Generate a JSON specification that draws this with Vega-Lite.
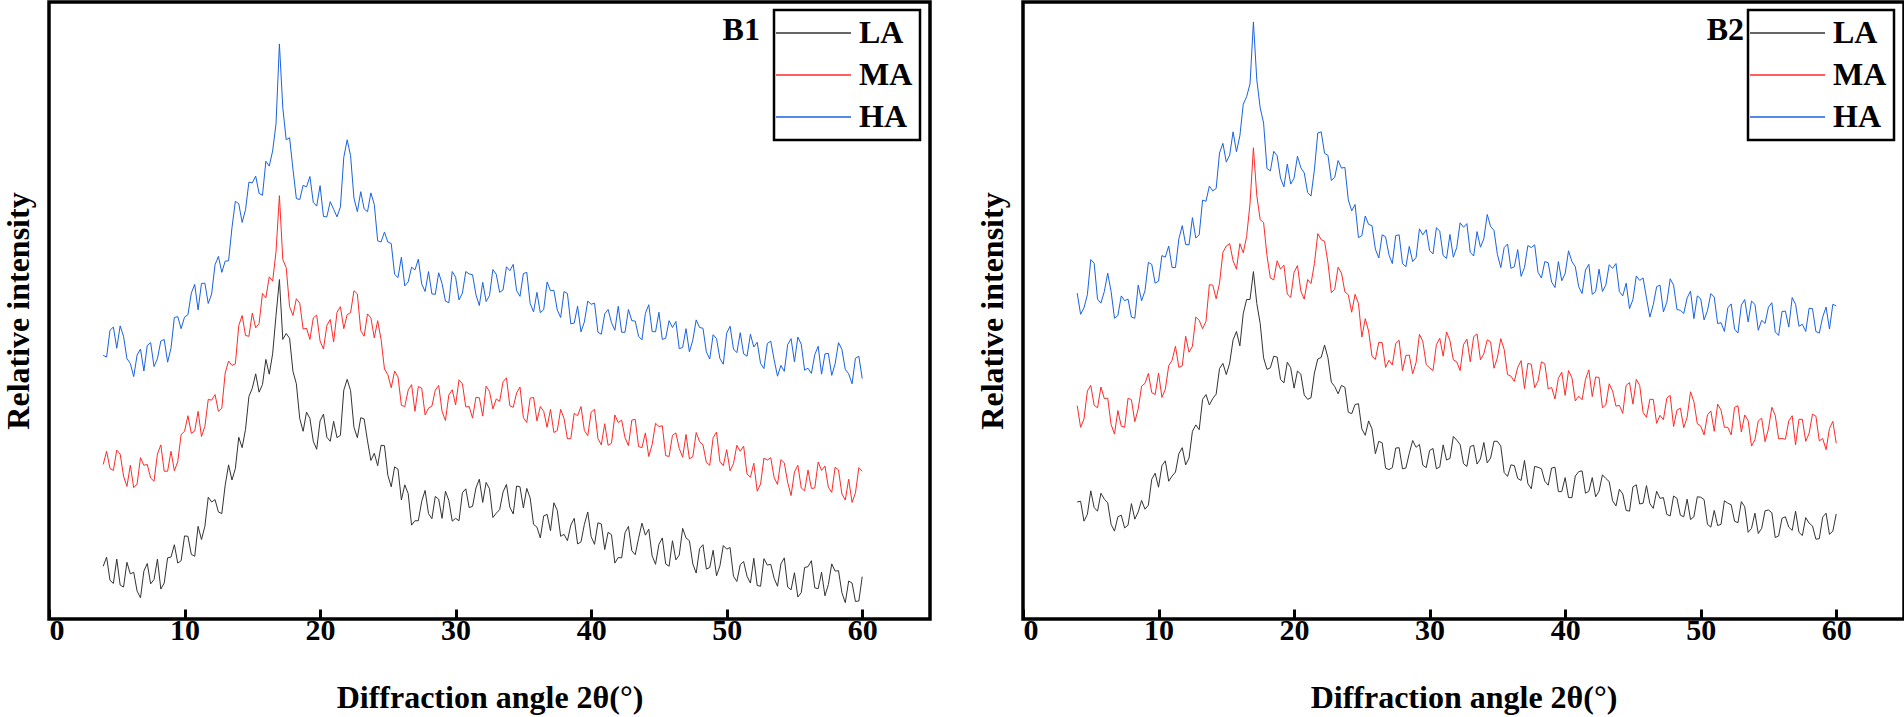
{
  "$schema": "https://vega.github.io/schema/vega-lite/v6.json",
  "padding": {"left": 0, "top": 0, "right": 0, "bottom": 0},
  "background": "white",
  "config": {
    "font": "Liberation Serif",
    "view": {"stroke": "black", "strokeWidth": 3.5},
    "axis": {
      "domain": false, "grid": false,
      "tickSize": -10, "tickWidth": 3, "tickColor": "black",
      "labelFontSize": 30, "labelFontWeight": "bold", "labelColor": "black",
      "titleFontSize": 32, "titleFontWeight": "bold", "titleColor": "black"
    },
    "axisX": {"labelPadding": 6, "titlePadding": 37},
    "axisY": {"titlePadding": 14},
    "legend": {"strokeColor": "black", "strokeWidth": 2.5, "fillColor": "white", "padding": 7, "cornerRadius": 0}
  },
  "datasets": {
    "b1la": [{"x":4,"y":132},{"x":4.25,"y":155},{"x":4.5,"y":97},{"x":4.75,"y":89},{"x":5,"y":150},{"x":5.25,"y":85},{"x":5.5,"y":80},{"x":5.75,"y":142},{"x":6,"y":113},{"x":6.25,"y":117},{"x":6.5,"y":70},{"x":6.75,"y":53},{"x":7,"y":120},{"x":7.25,"y":139},{"x":7.5,"y":88},{"x":7.75,"y":99},{"x":8,"y":150},{"x":8.25,"y":75},{"x":8.5,"y":90},{"x":8.75,"y":153},{"x":9,"y":155},{"x":9.25,"y":186},{"x":9.5,"y":140},{"x":9.75,"y":146},{"x":10,"y":208},{"x":10.25,"y":207},{"x":10.5,"y":162},{"x":10.75,"y":157},{"x":11,"y":232},{"x":11.25,"y":199},{"x":11.5,"y":232},{"x":11.75,"y":305},{"x":12,"y":293},{"x":12.25,"y":299},{"x":12.5,"y":268},{"x":12.75,"y":264},{"x":13,"y":335},{"x":13.25,"y":386},{"x":13.5,"y":348},{"x":13.75,"y":377},{"x":14,"y":455},{"x":14.25,"y":429},{"x":14.5,"y":475},{"x":14.75,"y":557},{"x":15,"y":578},{"x":15.25,"y":614},{"x":15.5,"y":568},{"x":15.75,"y":587},{"x":16,"y":650},{"x":16.25,"y":613},{"x":16.5,"y":664},{"x":16.75,"y":760},{"x":17,"y":850},{"x":17.25,"y":700},{"x":17.5,"y":715},{"x":17.75,"y":703},{"x":18,"y":620},{"x":18.25,"y":589},{"x":18.5,"y":502},{"x":18.75,"y":470},{"x":19,"y":518},{"x":19.25,"y":502},{"x":19.5,"y":445},{"x":19.75,"y":425},{"x":20,"y":496},{"x":20.25,"y":513},{"x":20.5,"y":455},{"x":20.75,"y":445},{"x":21,"y":495},{"x":21.25,"y":454},{"x":21.5,"y":460},{"x":21.75,"y":573},{"x":22,"y":600},{"x":22.25,"y":572},{"x":22.5,"y":480},{"x":22.75,"y":454},{"x":23,"y":504},{"x":23.25,"y":501},{"x":23.5,"y":446},{"x":23.75,"y":397},{"x":24,"y":415},{"x":24.25,"y":384},{"x":24.5,"y":435},{"x":24.75,"y":434},{"x":25,"y":360},{"x":25.25,"y":331},{"x":25.5,"y":381},{"x":25.75,"y":375},{"x":26,"y":298},{"x":26.25,"y":336},{"x":26.5,"y":314},{"x":26.75,"y":235},{"x":27,"y":246},{"x":27.25,"y":246},{"x":27.5,"y":295},{"x":27.75,"y":322},{"x":28,"y":264},{"x":28.25,"y":251},{"x":28.5,"y":307},{"x":28.75,"y":300},{"x":29,"y":252},{"x":29.25,"y":320},{"x":29.5,"y":297},{"x":29.75,"y":245},{"x":30,"y":252},{"x":30.25,"y":246},{"x":30.5,"y":316},{"x":30.75,"y":326},{"x":31,"y":279},{"x":31.25,"y":282},{"x":31.5,"y":328},{"x":31.75,"y":350},{"x":32,"y":292},{"x":32.25,"y":342},{"x":32.5,"y":326},{"x":32.75,"y":254},{"x":33,"y":265},{"x":33.25,"y":274},{"x":33.5,"y":318},{"x":33.75,"y":337},{"x":34,"y":280},{"x":34.25,"y":263},{"x":34.5,"y":333},{"x":34.75,"y":331},{"x":35,"y":278},{"x":35.25,"y":327},{"x":35.5,"y":303},{"x":35.75,"y":237},{"x":36,"y":230},{"x":36.25,"y":203},{"x":36.5,"y":258},{"x":36.75,"y":262},{"x":37,"y":221},{"x":37.25,"y":291},{"x":37.5,"y":272},{"x":37.75,"y":207},{"x":38,"y":212},{"x":38.25,"y":196},{"x":38.5,"y":235},{"x":38.75,"y":252},{"x":39,"y":188},{"x":39.25,"y":193},{"x":39.5,"y":237},{"x":39.75,"y":268},{"x":40,"y":206},{"x":40.25,"y":187},{"x":40.5,"y":241},{"x":40.75,"y":238},{"x":41,"y":174},{"x":41.25,"y":217},{"x":41.5,"y":211},{"x":41.75,"y":140},{"x":42,"y":154},{"x":42.25,"y":153},{"x":42.5,"y":216},{"x":42.75,"y":232},{"x":43,"y":171},{"x":43.25,"y":161},{"x":43.5,"y":202},{"x":43.75,"y":240},{"x":44,"y":210},{"x":44.25,"y":225},{"x":44.5,"y":158},{"x":44.75,"y":137},{"x":45,"y":187},{"x":45.25,"y":203},{"x":45.5,"y":138},{"x":45.75,"y":132},{"x":46,"y":196},{"x":46.25,"y":148},{"x":46.5,"y":160},{"x":46.75,"y":227},{"x":47,"y":203},{"x":47.25,"y":196},{"x":47.5,"y":138},{"x":47.75,"y":115},{"x":48,"y":176},{"x":48.25,"y":186},{"x":48.5,"y":125},{"x":48.75,"y":129},{"x":49,"y":172},{"x":49.25,"y":108},{"x":49.5,"y":133},{"x":49.75,"y":184},{"x":50,"y":175},{"x":50.25,"y":179},{"x":50.5,"y":107},{"x":50.75,"y":94},{"x":51,"y":136},{"x":51.25,"y":144},{"x":51.5,"y":107},{"x":51.75,"y":90},{"x":52,"y":152},{"x":52.25,"y":84},{"x":52.5,"y":82},{"x":52.75,"y":151},{"x":53,"y":135},{"x":53.25,"y":137},{"x":53.5,"y":102},{"x":53.75,"y":82},{"x":54,"y":138},{"x":54.25,"y":153},{"x":54.5,"y":80},{"x":54.75,"y":73},{"x":55,"y":116},{"x":55.25,"y":55},{"x":55.5,"y":66},{"x":55.75,"y":129},{"x":56,"y":131},{"x":56.25,"y":146},{"x":56.5,"y":78},{"x":56.75,"y":76},{"x":57,"y":117},{"x":57.25,"y":58},{"x":57.5,"y":86},{"x":57.75,"y":138},{"x":58,"y":120},{"x":58.25,"y":121},{"x":58.5,"y":66},{"x":58.75,"y":41},{"x":59,"y":95},{"x":59.25,"y":90},{"x":59.5,"y":44},{"x":59.75,"y":45},{"x":60,"y":106}],
    "b1ma": [{"x":4,"y":387},{"x":4.25,"y":420},{"x":4.5,"y":377},{"x":4.75,"y":372},{"x":5,"y":423},{"x":5.25,"y":413},{"x":5.5,"y":358},{"x":5.75,"y":332},{"x":6,"y":385},{"x":6.25,"y":329},{"x":6.5,"y":338},{"x":6.75,"y":404},{"x":7,"y":385},{"x":7.25,"y":387},{"x":7.5,"y":353},{"x":7.75,"y":345},{"x":8,"y":413},{"x":8.25,"y":436},{"x":8.5,"y":370},{"x":8.75,"y":370},{"x":9,"y":420},{"x":9.25,"y":371},{"x":9.5,"y":394},{"x":9.75,"y":462},{"x":10,"y":470},{"x":10.25,"y":509},{"x":10.5,"y":465},{"x":10.75,"y":471},{"x":11,"y":520},{"x":11.25,"y":457},{"x":11.5,"y":482},{"x":11.75,"y":550},{"x":12,"y":548},{"x":12.25,"y":562},{"x":12.5,"y":520},{"x":12.75,"y":528},{"x":13,"y":616},{"x":13.25,"y":646},{"x":13.5,"y":635},{"x":13.75,"y":639},{"x":14,"y":735},{"x":14.25,"y":760},{"x":14.5,"y":710},{"x":14.75,"y":708},{"x":15,"y":766},{"x":15.25,"y":729},{"x":15.5,"y":740},{"x":15.75,"y":815},{"x":16,"y":804},{"x":16.25,"y":857},{"x":16.5,"y":846},{"x":16.75,"y":920},{"x":17,"y":1060},{"x":17.25,"y":900},{"x":17.5,"y":880},{"x":17.75,"y":782},{"x":18,"y":760},{"x":18.25,"y":802},{"x":18.5,"y":791},{"x":18.75,"y":726},{"x":19,"y":728},{"x":19.25,"y":700},{"x":19.5,"y":754},{"x":19.75,"y":761},{"x":20,"y":696},{"x":20.25,"y":676},{"x":20.5,"y":735},{"x":20.75,"y":750},{"x":21,"y":694},{"x":21.25,"y":768},{"x":21.5,"y":782},{"x":21.75,"y":727},{"x":22,"y":762},{"x":22.25,"y":767},{"x":22.5,"y":822},{"x":22.75,"y":814},{"x":23,"y":722},{"x":23.25,"y":708},{"x":23.5,"y":764},{"x":23.75,"y":754},{"x":24,"y":704},{"x":24.25,"y":747},{"x":24.5,"y":700},{"x":24.75,"y":626},{"x":25,"y":612},{"x":25.25,"y":579},{"x":25.5,"y":621},{"x":25.75,"y":606},{"x":26,"y":535},{"x":26.25,"y":532},{"x":26.5,"y":573},{"x":26.75,"y":587},{"x":27,"y":520},{"x":27.25,"y":582},{"x":27.5,"y":578},{"x":27.75,"y":511},{"x":28,"y":528},{"x":28.25,"y":533},{"x":28.5,"y":573},{"x":28.75,"y":585},{"x":29,"y":520},{"x":29.25,"y":497},{"x":29.5,"y":561},{"x":29.75,"y":574},{"x":30,"y":536},{"x":30.25,"y":599},{"x":30.5,"y":589},{"x":30.75,"y":531},{"x":31,"y":532},{"x":31.25,"y":503},{"x":31.5,"y":555},{"x":31.75,"y":554},{"x":32,"y":508},{"x":32.25,"y":583},{"x":32.5,"y":570},{"x":32.75,"y":526},{"x":33,"y":551},{"x":33.25,"y":545},{"x":33.5,"y":594},{"x":33.75,"y":604},{"x":34,"y":534},{"x":34.25,"y":530},{"x":34.5,"y":566},{"x":34.75,"y":581},{"x":35,"y":504},{"x":35.25,"y":492},{"x":35.5,"y":553},{"x":35.75,"y":555},{"x":36,"y":496},{"x":36.25,"y":532},{"x":36.5,"y":520},{"x":36.75,"y":480},{"x":37,"y":525},{"x":37.25,"y":467},{"x":37.5,"y":472},{"x":37.75,"y":525},{"x":38,"y":502},{"x":38.25,"y":451},{"x":38.5,"y":452},{"x":38.75,"y":515},{"x":39,"y":509},{"x":39.25,"y":532},{"x":39.5,"y":472},{"x":39.75,"y":459},{"x":40,"y":518},{"x":40.25,"y":525},{"x":40.5,"y":452},{"x":40.75,"y":436},{"x":41,"y":489},{"x":41.25,"y":435},{"x":41.5,"y":440},{"x":41.75,"y":511},{"x":42,"y":492},{"x":42.25,"y":498},{"x":42.5,"y":454},{"x":42.75,"y":434},{"x":43,"y":498},{"x":43.25,"y":500},{"x":43.5,"y":432},{"x":43.75,"y":429},{"x":44,"y":466},{"x":44.25,"y":407},{"x":44.5,"y":437},{"x":44.75,"y":490},{"x":45,"y":482},{"x":45.25,"y":484},{"x":45.5,"y":409},{"x":45.75,"y":407},{"x":46,"y":460},{"x":46.25,"y":466},{"x":46.5,"y":427},{"x":46.75,"y":405},{"x":47,"y":462},{"x":47.25,"y":401},{"x":47.5,"y":406},{"x":47.75,"y":467},{"x":48,"y":444},{"x":48.25,"y":436},{"x":48.5,"y":392},{"x":48.75,"y":385},{"x":49,"y":454},{"x":49.25,"y":468},{"x":49.5,"y":394},{"x":49.75,"y":384},{"x":50,"y":424},{"x":50.25,"y":371},{"x":50.5,"y":389},{"x":50.75,"y":435},{"x":51,"y":420},{"x":51.25,"y":433},{"x":51.5,"y":363},{"x":51.75,"y":355},{"x":52,"y":390},{"x":52.25,"y":320},{"x":52.5,"y":338},{"x":52.75,"y":403},{"x":53,"y":398},{"x":53.25,"y":404},{"x":53.5,"y":354},{"x":53.75,"y":337},{"x":54,"y":399},{"x":54.25,"y":391},{"x":54.5,"y":342},{"x":54.75,"y":309},{"x":55,"y":368},{"x":55.25,"y":385},{"x":55.5,"y":328},{"x":55.75,"y":321},{"x":56,"y":373},{"x":56.25,"y":327},{"x":56.5,"y":328},{"x":56.75,"y":393},{"x":57,"y":372},{"x":57.25,"y":383},{"x":57.5,"y":330},{"x":57.75,"y":317},{"x":58,"y":380},{"x":58.25,"y":373},{"x":58.5,"y":313},{"x":58.75,"y":298},{"x":59,"y":350},{"x":59.25,"y":292},{"x":59.5,"y":316},{"x":59.75,"y":379},{"x":60,"y":370}],
    "b1ha": [{"x":4,"y":660},{"x":4.25,"y":656},{"x":4.5,"y":723},{"x":4.75,"y":731},{"x":5,"y":678},{"x":5.25,"y":734},{"x":5.5,"y":708},{"x":5.75,"y":652},{"x":6,"y":640},{"x":6.25,"y":607},{"x":6.5,"y":661},{"x":6.75,"y":676},{"x":7,"y":621},{"x":7.25,"y":685},{"x":7.5,"y":692},{"x":7.75,"y":632},{"x":8,"y":652},{"x":8.25,"y":696},{"x":8.5,"y":700},{"x":8.75,"y":643},{"x":9,"y":678},{"x":9.25,"y":755},{"x":9.5,"y":757},{"x":9.75,"y":727},{"x":10,"y":756},{"x":10.25,"y":762},{"x":10.5,"y":816},{"x":10.75,"y":838},{"x":11,"y":774},{"x":11.25,"y":840},{"x":11.5,"y":841},{"x":11.75,"y":790},{"x":12,"y":814},{"x":12.25,"y":887},{"x":12.5,"y":908},{"x":12.75,"y":868},{"x":13,"y":896},{"x":13.25,"y":897},{"x":13.5,"y":980},{"x":13.75,"y":1046},{"x":14,"y":1040},{"x":14.25,"y":993},{"x":14.5,"y":1025},{"x":14.75,"y":1094},{"x":15,"y":1092},{"x":15.25,"y":1109},{"x":15.5,"y":1066},{"x":15.75,"y":1061},{"x":16,"y":1146},{"x":16.25,"y":1134},{"x":16.5,"y":1172},{"x":16.75,"y":1240},{"x":17,"y":1440},{"x":17.25,"y":1280},{"x":17.5,"y":1200},{"x":17.75,"y":1205},{"x":18,"y":1126},{"x":18.25,"y":1053},{"x":18.5,"y":1050},{"x":18.75,"y":1086},{"x":19,"y":1082},{"x":19.25,"y":1108},{"x":19.5,"y":1043},{"x":19.75,"y":1034},{"x":20,"y":1085},{"x":20.25,"y":1008},{"x":20.5,"y":1007},{"x":20.75,"y":1045},{"x":21,"y":1026},{"x":21.25,"y":1007},{"x":21.5,"y":1032},{"x":21.75,"y":1156},{"x":22,"y":1200},{"x":22.25,"y":1160},{"x":22.5,"y":1054},{"x":22.75,"y":1020},{"x":23,"y":1070},{"x":23.25,"y":1027},{"x":23.5,"y":1020},{"x":23.75,"y":1067},{"x":24,"y":1038},{"x":24.25,"y":947},{"x":24.5,"y":944},{"x":24.75,"y":969},{"x":25,"y":944},{"x":25.25,"y":940},{"x":25.5,"y":863},{"x":25.75,"y":855},{"x":26,"y":906},{"x":26.25,"y":834},{"x":26.5,"y":844},{"x":26.75,"y":881},{"x":27,"y":874},{"x":27.25,"y":901},{"x":27.5,"y":839},{"x":27.75,"y":820},{"x":28,"y":870},{"x":28.25,"y":814},{"x":28.5,"y":813},{"x":28.75,"y":867},{"x":29,"y":840},{"x":29.25,"y":796},{"x":29.5,"y":792},{"x":29.75,"y":870},{"x":30,"y":856},{"x":30.25,"y":799},{"x":30.5,"y":816},{"x":30.75,"y":870},{"x":31,"y":864},{"x":31.25,"y":862},{"x":31.5,"y":812},{"x":31.75,"y":785},{"x":32,"y":843},{"x":32.25,"y":795},{"x":32.5,"y":810},{"x":32.75,"y":875},{"x":33,"y":863},{"x":33.25,"y":818},{"x":33.5,"y":824},{"x":33.75,"y":882},{"x":34,"y":872},{"x":34.25,"y":888},{"x":34.5,"y":822},{"x":34.75,"y":808},{"x":35,"y":865},{"x":35.25,"y":868},{"x":35.5,"y":790},{"x":35.75,"y":769},{"x":36,"y":818},{"x":36.25,"y":767},{"x":36.5,"y":775},{"x":36.75,"y":844},{"x":37,"y":822},{"x":37.25,"y":823},{"x":37.5,"y":774},{"x":37.75,"y":755},{"x":38,"y":820},{"x":38.25,"y":815},{"x":38.5,"y":739},{"x":38.75,"y":741},{"x":39,"y":783},{"x":39.25,"y":719},{"x":39.5,"y":744},{"x":39.75,"y":796},{"x":40,"y":788},{"x":40.25,"y":791},{"x":40.5,"y":718},{"x":40.75,"y":713},{"x":41,"y":764},{"x":41.25,"y":775},{"x":41.5,"y":742},{"x":41.75,"y":723},{"x":42,"y":783},{"x":42.25,"y":718},{"x":42.5,"y":718},{"x":42.75,"y":775},{"x":43,"y":747},{"x":43.25,"y":746},{"x":43.5,"y":708},{"x":43.75,"y":699},{"x":44,"y":765},{"x":44.25,"y":787},{"x":44.5,"y":720},{"x":44.75,"y":719},{"x":45,"y":768},{"x":45.25,"y":700},{"x":45.5,"y":703},{"x":45.75,"y":747},{"x":46,"y":730},{"x":46.25,"y":745},{"x":46.5,"y":677},{"x":46.75,"y":680},{"x":47,"y":727},{"x":47.25,"y":669},{"x":47.5,"y":698},{"x":47.75,"y":749},{"x":48,"y":730},{"x":48.25,"y":728},{"x":48.5,"y":669},{"x":48.75,"y":651},{"x":49,"y":712},{"x":49.25,"y":702},{"x":49.5,"y":652},{"x":49.75,"y":638},{"x":50,"y":716},{"x":50.25,"y":733},{"x":50.5,"y":676},{"x":50.75,"y":667},{"x":51,"y":717},{"x":51.25,"y":664},{"x":51.5,"y":658},{"x":51.75,"y":713},{"x":52,"y":681},{"x":52.25,"y":693},{"x":52.5,"y":640},{"x":52.75,"y":627},{"x":53,"y":690},{"x":53.25,"y":696},{"x":53.5,"y":649},{"x":53.75,"y":608},{"x":54,"y":635},{"x":54.25,"y":620},{"x":54.5,"y":687},{"x":54.75,"y":702},{"x":55,"y":644},{"x":55.25,"y":706},{"x":55.5,"y":688},{"x":55.75,"y":623},{"x":56,"y":628},{"x":56.25,"y":615},{"x":56.5,"y":662},{"x":56.75,"y":683},{"x":57,"y":613},{"x":57.25,"y":664},{"x":57.5,"y":665},{"x":57.75,"y":610},{"x":58,"y":639},{"x":58.25,"y":692},{"x":58.5,"y":675},{"x":58.75,"y":625},{"x":59,"y":614},{"x":59.25,"y":589},{"x":59.5,"y":653},{"x":59.75,"y":658},{"x":60,"y":602}],
    "b2la": [{"x":4,"y":293},{"x":4.25,"y":295},{"x":4.5,"y":245},{"x":4.75,"y":262},{"x":5,"y":321},{"x":5.25,"y":279},{"x":5.5,"y":270},{"x":5.75,"y":315},{"x":6,"y":300},{"x":6.25,"y":291},{"x":6.5,"y":237},{"x":6.75,"y":220},{"x":7,"y":256},{"x":7.25,"y":260},{"x":7.5,"y":228},{"x":7.75,"y":235},{"x":8,"y":289},{"x":8.25,"y":250},{"x":8.5,"y":268},{"x":8.75,"y":297},{"x":9,"y":275},{"x":9.25,"y":285},{"x":9.5,"y":350},{"x":9.75,"y":365},{"x":10,"y":330},{"x":10.25,"y":384},{"x":10.5,"y":396},{"x":10.75,"y":345},{"x":11,"y":358},{"x":11.25,"y":368},{"x":11.5,"y":414},{"x":11.75,"y":429},{"x":12,"y":386},{"x":12.25,"y":403},{"x":12.5,"y":470},{"x":12.75,"y":486},{"x":13,"y":474},{"x":13.25,"y":550},{"x":13.5,"y":562},{"x":13.75,"y":536},{"x":14,"y":552},{"x":14.25,"y":563},{"x":14.5,"y":627},{"x":14.75,"y":640},{"x":15,"y":612},{"x":15.25,"y":641},{"x":15.5,"y":699},{"x":15.75,"y":720},{"x":16,"y":684},{"x":16.25,"y":765},{"x":16.5,"y":800},{"x":16.75,"y":800},{"x":17,"y":870},{"x":17.25,"y":790},{"x":17.5,"y":740},{"x":17.75,"y":654},{"x":18,"y":625},{"x":18.25,"y":629},{"x":18.5,"y":658},{"x":18.75,"y":656},{"x":19,"y":600},{"x":19.25,"y":591},{"x":19.5,"y":643},{"x":19.75,"y":629},{"x":20,"y":578},{"x":20.25,"y":621},{"x":20.5,"y":613},{"x":20.75,"y":561},{"x":21,"y":550},{"x":21.25,"y":554},{"x":21.5,"y":616},{"x":21.75,"y":651},{"x":22,"y":655},{"x":22.25,"y":686},{"x":22.5,"y":654},{"x":22.75,"y":593},{"x":23,"y":582},{"x":23.25,"y":564},{"x":23.5,"y":585},{"x":23.75,"y":580},{"x":24,"y":518},{"x":24.25,"y":514},{"x":24.5,"y":537},{"x":24.75,"y":539},{"x":25,"y":476},{"x":25.25,"y":460},{"x":25.5,"y":496},{"x":25.75,"y":476},{"x":26,"y":414},{"x":26.25,"y":445},{"x":26.5,"y":441},{"x":26.75,"y":378},{"x":27,"y":374},{"x":27.25,"y":379},{"x":27.5,"y":428},{"x":27.75,"y":429},{"x":28,"y":376},{"x":28.25,"y":378},{"x":28.5,"y":415},{"x":28.75,"y":447},{"x":29,"y":430},{"x":29.25,"y":437},{"x":29.5,"y":385},{"x":29.75,"y":379},{"x":30,"y":422},{"x":30.25,"y":427},{"x":30.5,"y":376},{"x":30.75,"y":381},{"x":31,"y":436},{"x":31.25,"y":398},{"x":31.5,"y":402},{"x":31.75,"y":457},{"x":32,"y":448},{"x":32.25,"y":437},{"x":32.5,"y":389},{"x":32.75,"y":382},{"x":33,"y":432},{"x":33.25,"y":435},{"x":33.5,"y":388},{"x":33.75,"y":401},{"x":34,"y":442},{"x":34.25,"y":391},{"x":34.5,"y":403},{"x":34.75,"y":445},{"x":35,"y":445},{"x":35.25,"y":433},{"x":35.5,"y":367},{"x":35.75,"y":357},{"x":36,"y":386},{"x":36.25,"y":384},{"x":36.5,"y":352},{"x":36.75,"y":347},{"x":37,"y":397},{"x":37.25,"y":339},{"x":37.5,"y":326},{"x":37.75,"y":382},{"x":38,"y":380},{"x":38.25,"y":376},{"x":38.5,"y":345},{"x":38.75,"y":335},{"x":39,"y":378},{"x":39.25,"y":380},{"x":39.5,"y":319},{"x":39.75,"y":319},{"x":40,"y":354},{"x":40.25,"y":304},{"x":40.5,"y":304},{"x":40.75,"y":358},{"x":41,"y":369},{"x":41.25,"y":371},{"x":41.5,"y":315},{"x":41.75,"y":320},{"x":42,"y":354},{"x":42.25,"y":306},{"x":42.5,"y":320},{"x":42.75,"y":361},{"x":43,"y":352},{"x":43.25,"y":344},{"x":43.5,"y":296},{"x":43.75,"y":283},{"x":44,"y":325},{"x":44.25,"y":313},{"x":44.5,"y":272},{"x":44.75,"y":270},{"x":45,"y":331},{"x":45.25,"y":336},{"x":45.5,"y":288},{"x":45.75,"y":290},{"x":46,"y":334},{"x":46.25,"y":289},{"x":46.5,"y":277},{"x":46.75,"y":320},{"x":47,"y":302},{"x":47.25,"y":304},{"x":47.5,"y":262},{"x":47.75,"y":258},{"x":48,"y":308},{"x":48.25,"y":302},{"x":48.5,"y":260},{"x":48.75,"y":256},{"x":49,"y":300},{"x":49.25,"y":249},{"x":49.5,"y":256},{"x":49.75,"y":306},{"x":50,"y":305},{"x":50.25,"y":299},{"x":50.5,"y":237},{"x":50.75,"y":230},{"x":51,"y":272},{"x":51.25,"y":234},{"x":51.5,"y":237},{"x":51.75,"y":296},{"x":52,"y":290},{"x":52.25,"y":286},{"x":52.5,"y":245},{"x":52.75,"y":241},{"x":53,"y":294},{"x":53.25,"y":281},{"x":53.5,"y":217},{"x":53.75,"y":227},{"x":54,"y":265},{"x":54.25,"y":214},{"x":54.5,"y":227},{"x":54.75,"y":271},{"x":55,"y":273},{"x":55.25,"y":266},{"x":55.5,"y":204},{"x":55.75,"y":208},{"x":56,"y":252},{"x":56.25,"y":256},{"x":56.5,"y":230},{"x":56.75,"y":222},{"x":57,"y":270},{"x":57.25,"y":217},{"x":57.5,"y":209},{"x":57.75,"y":254},{"x":58,"y":240},{"x":58.25,"y":233},{"x":58.5,"y":200},{"x":58.75,"y":201},{"x":59,"y":255},{"x":59.25,"y":265},{"x":59.5,"y":212},{"x":59.75,"y":220},{"x":60,"y":263}],
    "b2ma": [{"x":4,"y":534},{"x":4.25,"y":480},{"x":4.5,"y":501},{"x":4.75,"y":571},{"x":5,"y":585},{"x":5.25,"y":535},{"x":5.5,"y":529},{"x":5.75,"y":581},{"x":6,"y":552},{"x":6.25,"y":553},{"x":6.5,"y":487},{"x":6.75,"y":463},{"x":7,"y":522},{"x":7.25,"y":483},{"x":7.5,"y":480},{"x":7.75,"y":553},{"x":8,"y":549},{"x":8.25,"y":494},{"x":8.5,"y":526},{"x":8.75,"y":583},{"x":9,"y":590},{"x":9.25,"y":615},{"x":9.5,"y":567},{"x":9.75,"y":562},{"x":10,"y":616},{"x":10.25,"y":555},{"x":10.5,"y":575},{"x":10.75,"y":634},{"x":11,"y":648},{"x":11.25,"y":683},{"x":11.5,"y":630},{"x":11.75,"y":634},{"x":12,"y":708},{"x":12.25,"y":668},{"x":12.5,"y":683},{"x":12.75,"y":756},{"x":13,"y":748},{"x":13.25,"y":727},{"x":13.5,"y":745},{"x":13.75,"y":837},{"x":14,"y":836},{"x":14.25,"y":802},{"x":14.5,"y":841},{"x":14.75,"y":918},{"x":15,"y":934},{"x":15.25,"y":940},{"x":15.5,"y":897},{"x":15.75,"y":876},{"x":16,"y":940},{"x":16.25,"y":917},{"x":16.5,"y":958},{"x":16.75,"y":1040},{"x":17,"y":1180},{"x":17.25,"y":1060},{"x":17.5,"y":1000},{"x":17.75,"y":993},{"x":18,"y":910},{"x":18.25,"y":854},{"x":18.5,"y":849},{"x":18.75,"y":897},{"x":19,"y":876},{"x":19.25,"y":886},{"x":19.5,"y":814},{"x":19.75,"y":805},{"x":20,"y":868},{"x":20.25,"y":885},{"x":20.5,"y":821},{"x":20.75,"y":801},{"x":21,"y":850},{"x":21.25,"y":840},{"x":21.5,"y":890},{"x":21.75,"y":965},{"x":22,"y":950},{"x":22.25,"y":946},{"x":22.5,"y":892},{"x":22.75,"y":817},{"x":23,"y":826},{"x":23.25,"y":881},{"x":23.5,"y":866},{"x":23.75,"y":819},{"x":24,"y":812},{"x":24.25,"y":768},{"x":24.5,"y":813},{"x":24.75,"y":790},{"x":25,"y":706},{"x":25.25,"y":752},{"x":25.5,"y":721},{"x":25.75,"y":658},{"x":26,"y":650},{"x":26.25,"y":693},{"x":26.5,"y":692},{"x":26.75,"y":630},{"x":27,"y":648},{"x":27.25,"y":636},{"x":27.5,"y":690},{"x":27.75,"y":698},{"x":28,"y":622},{"x":28.25,"y":660},{"x":28.5,"y":661},{"x":28.75,"y":614},{"x":29,"y":642},{"x":29.25,"y":713},{"x":29.5,"y":695},{"x":29.75,"y":637},{"x":30,"y":629},{"x":30.25,"y":622},{"x":30.5,"y":687},{"x":30.75,"y":703},{"x":31,"y":658},{"x":31.25,"y":719},{"x":31.5,"y":697},{"x":31.75,"y":649},{"x":32,"y":644},{"x":32.25,"y":622},{"x":32.5,"y":687},{"x":32.75,"y":701},{"x":33,"y":644},{"x":33.25,"y":707},{"x":33.5,"y":714},{"x":33.75,"y":649},{"x":34,"y":664},{"x":34.25,"y":699},{"x":34.5,"y":694},{"x":34.75,"y":628},{"x":35,"y":654},{"x":35.25,"y":702},{"x":35.5,"y":675},{"x":35.75,"y":612},{"x":36,"y":608},{"x":36.25,"y":595},{"x":36.5,"y":630},{"x":36.75,"y":647},{"x":37,"y":577},{"x":37.25,"y":640},{"x":37.5,"y":638},{"x":37.75,"y":579},{"x":38,"y":596},{"x":38.25,"y":644},{"x":38.5,"y":639},{"x":38.75,"y":576},{"x":39,"y":580},{"x":39.25,"y":551},{"x":39.5,"y":603},{"x":39.75,"y":618},{"x":40,"y":560},{"x":40.25,"y":622},{"x":40.5,"y":604},{"x":40.75,"y":546},{"x":41,"y":558},{"x":41.25,"y":549},{"x":41.5,"y":600},{"x":41.75,"y":624},{"x":42,"y":557},{"x":42.25,"y":606},{"x":42.5,"y":605},{"x":42.75,"y":529},{"x":43,"y":536},{"x":43.25,"y":589},{"x":43.5,"y":571},{"x":43.75,"y":533},{"x":44,"y":535},{"x":44.25,"y":515},{"x":44.5,"y":585},{"x":44.75,"y":592},{"x":45,"y":538},{"x":45.25,"y":600},{"x":45.5,"y":585},{"x":45.75,"y":517},{"x":46,"y":505},{"x":46.25,"y":550},{"x":46.5,"y":550},{"x":46.75,"y":490},{"x":47,"y":510},{"x":47.25,"y":499},{"x":47.5,"y":553},{"x":47.75,"y":560},{"x":48,"y":482},{"x":48.25,"y":523},{"x":48.5,"y":528},{"x":48.75,"y":479},{"x":49,"y":505},{"x":49.25,"y":569},{"x":49.5,"y":544},{"x":49.75,"y":489},{"x":50,"y":483},{"x":50.25,"y":461},{"x":50.5,"y":511},{"x":50.75,"y":521},{"x":51,"y":470},{"x":51.25,"y":538},{"x":51.5,"y":523},{"x":51.75,"y":480},{"x":52,"y":480},{"x":52.25,"y":461},{"x":52.5,"y":530},{"x":52.75,"y":534},{"x":53,"y":468},{"x":53.25,"y":511},{"x":53.5,"y":497},{"x":53.75,"y":433},{"x":54,"y":449},{"x":54.25,"y":496},{"x":54.5,"y":503},{"x":54.75,"y":444},{"x":55,"y":476},{"x":55.25,"y":530},{"x":55.5,"y":510},{"x":55.75,"y":451},{"x":56,"y":452},{"x":56.25,"y":450},{"x":56.5,"y":496},{"x":56.75,"y":509},{"x":57,"y":436},{"x":57.25,"y":500},{"x":57.5,"y":500},{"x":57.75,"y":445},{"x":58,"y":465},{"x":58.25,"y":513},{"x":58.5,"y":508},{"x":58.75,"y":446},{"x":59,"y":452},{"x":59.25,"y":424},{"x":59.5,"y":477},{"x":59.75,"y":495},{"x":60,"y":440}],
    "b2ha": [{"x":4,"y":816},{"x":4.25,"y":763},{"x":4.5,"y":779},{"x":4.75,"y":812},{"x":5,"y":900},{"x":5.25,"y":891},{"x":5.5,"y":801},{"x":5.75,"y":791},{"x":6,"y":820},{"x":6.25,"y":866},{"x":6.5,"y":820},{"x":6.75,"y":753},{"x":7,"y":760},{"x":7.25,"y":809},{"x":7.5,"y":797},{"x":7.75,"y":801},{"x":8,"y":756},{"x":8.25,"y":753},{"x":8.5,"y":836},{"x":8.75,"y":797},{"x":9,"y":822},{"x":9.25,"y":893},{"x":9.5,"y":888},{"x":9.75,"y":841},{"x":10,"y":846},{"x":10.25,"y":910},{"x":10.5,"y":906},{"x":10.75,"y":934},{"x":11,"y":880},{"x":11.25,"y":880},{"x":11.5,"y":952},{"x":11.75,"y":985},{"x":12,"y":938},{"x":12.25,"y":937},{"x":12.5,"y":1005},{"x":12.75,"y":954},{"x":13,"y":962},{"x":13.25,"y":1049},{"x":13.5,"y":1046},{"x":13.75,"y":1084},{"x":14,"y":1072},{"x":14.25,"y":1078},{"x":14.5,"y":1167},{"x":14.75,"y":1191},{"x":15,"y":1144},{"x":15.25,"y":1162},{"x":15.5,"y":1220},{"x":15.75,"y":1170},{"x":16,"y":1210},{"x":16.25,"y":1289},{"x":16.5,"y":1308},{"x":16.75,"y":1340},{"x":17,"y":1495},{"x":17.25,"y":1350},{"x":17.5,"y":1280},{"x":17.75,"y":1242},{"x":18,"y":1128},{"x":18.25,"y":1122},{"x":18.5,"y":1171},{"x":18.75,"y":1160},{"x":19,"y":1104},{"x":19.25,"y":1082},{"x":19.5,"y":1139},{"x":19.75,"y":1089},{"x":20,"y":1104},{"x":20.25,"y":1159},{"x":20.5,"y":1130},{"x":20.75,"y":1117},{"x":21,"y":1068},{"x":21.25,"y":1059},{"x":21.5,"y":1125},{"x":21.75,"y":1217},{"x":22,"y":1220},{"x":22.25,"y":1166},{"x":22.5,"y":1161},{"x":22.75,"y":1098},{"x":23,"y":1106},{"x":23.25,"y":1148},{"x":23.5,"y":1129},{"x":23.75,"y":1131},{"x":24,"y":1050},{"x":24.25,"y":1022},{"x":24.5,"y":1038},{"x":24.75,"y":955},{"x":25,"y":960},{"x":25.25,"y":1009},{"x":25.5,"y":988},{"x":25.75,"y":985},{"x":26,"y":926},{"x":26.25,"y":904},{"x":26.5,"y":962},{"x":26.75,"y":957},{"x":27,"y":912},{"x":27.25,"y":890},{"x":27.5,"y":960},{"x":27.75,"y":962},{"x":28,"y":890},{"x":28.25,"y":882},{"x":28.5,"y":933},{"x":28.75,"y":895},{"x":29,"y":905},{"x":29.25,"y":977},{"x":29.5,"y":962},{"x":29.75,"y":975},{"x":30,"y":923},{"x":30.25,"y":914},{"x":30.5,"y":980},{"x":30.75,"y":971},{"x":31,"y":910},{"x":31.25,"y":903},{"x":31.5,"y":963},{"x":31.75,"y":906},{"x":32,"y":930},{"x":32.25,"y":992},{"x":32.5,"y":981},{"x":32.75,"y":990},{"x":33,"y":918},{"x":33.25,"y":909},{"x":33.5,"y":970},{"x":33.75,"y":931},{"x":34,"y":952},{"x":34.25,"y":1013},{"x":34.5,"y":983},{"x":34.75,"y":973},{"x":35,"y":913},{"x":35.25,"y":880},{"x":35.5,"y":930},{"x":35.75,"y":939},{"x":36,"y":878},{"x":36.25,"y":882},{"x":36.5,"y":925},{"x":36.75,"y":858},{"x":37,"y":880},{"x":37.25,"y":935},{"x":37.5,"y":930},{"x":37.75,"y":937},{"x":38,"y":868},{"x":38.25,"y":854},{"x":38.5,"y":895},{"x":38.75,"y":892},{"x":39,"y":844},{"x":39.25,"y":830},{"x":39.5,"y":895},{"x":39.75,"y":847},{"x":40,"y":865},{"x":40.25,"y":922},{"x":40.5,"y":895},{"x":40.75,"y":882},{"x":41,"y":832},{"x":41.25,"y":815},{"x":41.5,"y":874},{"x":41.75,"y":888},{"x":42,"y":813},{"x":42.25,"y":820},{"x":42.5,"y":876},{"x":42.75,"y":820},{"x":43,"y":836},{"x":43.25,"y":887},{"x":43.5,"y":878},{"x":43.75,"y":890},{"x":44,"y":820},{"x":44.25,"y":809},{"x":44.5,"y":841},{"x":44.75,"y":777},{"x":45,"y":800},{"x":45.25,"y":859},{"x":45.5,"y":848},{"x":45.75,"y":854},{"x":46,"y":804},{"x":46.25,"y":756},{"x":46.5,"y":787},{"x":46.75,"y":832},{"x":47,"y":836},{"x":47.25,"y":769},{"x":47.5,"y":793},{"x":47.75,"y":852},{"x":48,"y":836},{"x":48.25,"y":775},{"x":48.5,"y":773},{"x":48.75,"y":765},{"x":49,"y":804},{"x":49.25,"y":821},{"x":49.5,"y":752},{"x":49.75,"y":809},{"x":50,"y":802},{"x":50.25,"y":749},{"x":50.5,"y":772},{"x":50.75,"y":815},{"x":51,"y":806},{"x":51.25,"y":740},{"x":51.5,"y":742},{"x":51.75,"y":720},{"x":52,"y":779},{"x":52.25,"y":789},{"x":52.5,"y":726},{"x":52.75,"y":716},{"x":53,"y":786},{"x":53.25,"y":800},{"x":53.5,"y":744},{"x":53.75,"y":796},{"x":54,"y":788},{"x":54.25,"y":723},{"x":54.5,"y":748},{"x":54.75,"y":740},{"x":55,"y":781},{"x":55.25,"y":792},{"x":55.5,"y":719},{"x":55.75,"y":710},{"x":56,"y":770},{"x":56.25,"y":771},{"x":56.5,"y":731},{"x":56.75,"y":805},{"x":57,"y":788},{"x":57.25,"y":733},{"x":57.5,"y":738},{"x":57.75,"y":720},{"x":58,"y":778},{"x":58.25,"y":777},{"x":58.5,"y":720},{"x":58.75,"y":716},{"x":59,"y":756},{"x":59.25,"y":781},{"x":59.5,"y":726},{"x":59.75,"y":788},{"x":60,"y":784}]
  },
  "spacing": 42,
  "resolve": {"scale": {"color": "independent"}, "legend": {"color": "independent"}},
  "hconcat": [
    {
      "width": 881,
      "height": 617,
      "layer": [
        {"data": {"name": "b1la"}, "mark": {"type": "line", "strokeWidth": 1},
         "encoding": {
           "x": {"field": "x", "type": "quantitative", "scale": {"domain": [0, 65], "nice": false, "zero": false}, "axis": {"title": "Diffraction angle 2θ(°)", "values": [0, 10, 20, 30, 40, 50, 60]}},
           "y": {"field": "y", "type": "quantitative", "scale": {"domain": [0, 1545], "nice": false}, "axis": {"title": "Relative intensity", "labels": false, "ticks": false}},
           "color": {"datum": "LA", "scale": {"domain": ["LA", "MA", "HA"], "range": ["#333333", "#ff2a2a", "#1a62e0"]},
             "legend": {"title": null, "orient": "none", "legendX": 725, "legendY": 8, "symbolType": "M-1.4,0H3.6", "symbolSize": 900, "symbolStrokeWidth": 1.5, "labelOffset": 46, "labelFontSize": 32, "labelFontWeight": "bold", "labelColor": "black", "rowPadding": 10, "labelLimit": 0}}}},
        {"data": {"name": "b1ma"}, "mark": {"type": "line", "strokeWidth": 1},
         "encoding": {"x": {"field": "x", "type": "quantitative"}, "y": {"field": "y", "type": "quantitative"}, "color": {"datum": "MA"}}},
        {"data": {"name": "b1ha"}, "mark": {"type": "line", "strokeWidth": 1},
         "encoding": {"x": {"field": "x", "type": "quantitative"}, "y": {"field": "y", "type": "quantitative"}, "color": {"datum": "HA"}}},
        {"data": {"values": [{"t": "B1"}]},
         "mark": {"type": "text", "align": "right", "baseline": "middle", "fontSize": 32, "fontWeight": "bold", "color": "black"},
         "encoding": {"x": {"datum": 52.45, "type": "quantitative"}, "y": {"datum": 1475, "type": "quantitative"}, "text": {"field": "t"}}}
      ]
    },
    {
      "width": 881,
      "height": 617,
      "layer": [
        {"data": {"name": "b2la"}, "mark": {"type": "line", "strokeWidth": 1},
         "encoding": {
           "x": {"field": "x", "type": "quantitative", "scale": {"domain": [0, 65], "nice": false, "zero": false}, "axis": {"title": "Diffraction angle 2θ(°)", "values": [0, 10, 20, 30, 40, 50, 60]}},
           "y": {"field": "y", "type": "quantitative", "scale": {"domain": [0, 1545], "nice": false}, "axis": {"title": "Relative intensity", "labels": false, "ticks": false}},
           "color": {"datum": "LA", "scale": {"domain": ["LA", "MA", "HA"], "range": ["#333333", "#ff2a2a", "#1a62e0"]},
             "legend": {"title": null, "orient": "none", "legendX": 725, "legendY": 8, "symbolType": "M-1.4,0H3.6", "symbolSize": 900, "symbolStrokeWidth": 1.5, "labelOffset": 46, "labelFontSize": 32, "labelFontWeight": "bold", "labelColor": "black", "rowPadding": 10, "labelLimit": 0}}}},
        {"data": {"name": "b2ma"}, "mark": {"type": "line", "strokeWidth": 1},
         "encoding": {"x": {"field": "x", "type": "quantitative"}, "y": {"field": "y", "type": "quantitative"}, "color": {"datum": "MA"}}},
        {"data": {"name": "b2ha"}, "mark": {"type": "line", "strokeWidth": 1},
         "encoding": {"x": {"field": "x", "type": "quantitative"}, "y": {"field": "y", "type": "quantitative"}, "color": {"datum": "HA"}}},
        {"data": {"values": [{"t": "B2"}]},
         "mark": {"type": "text", "align": "right", "baseline": "middle", "fontSize": 32, "fontWeight": "bold", "color": "black"},
         "encoding": {"x": {"datum": 53.2, "type": "quantitative"}, "y": {"datum": 1475, "type": "quantitative"}, "text": {"field": "t"}}}
      ]
    }
  ]
}
